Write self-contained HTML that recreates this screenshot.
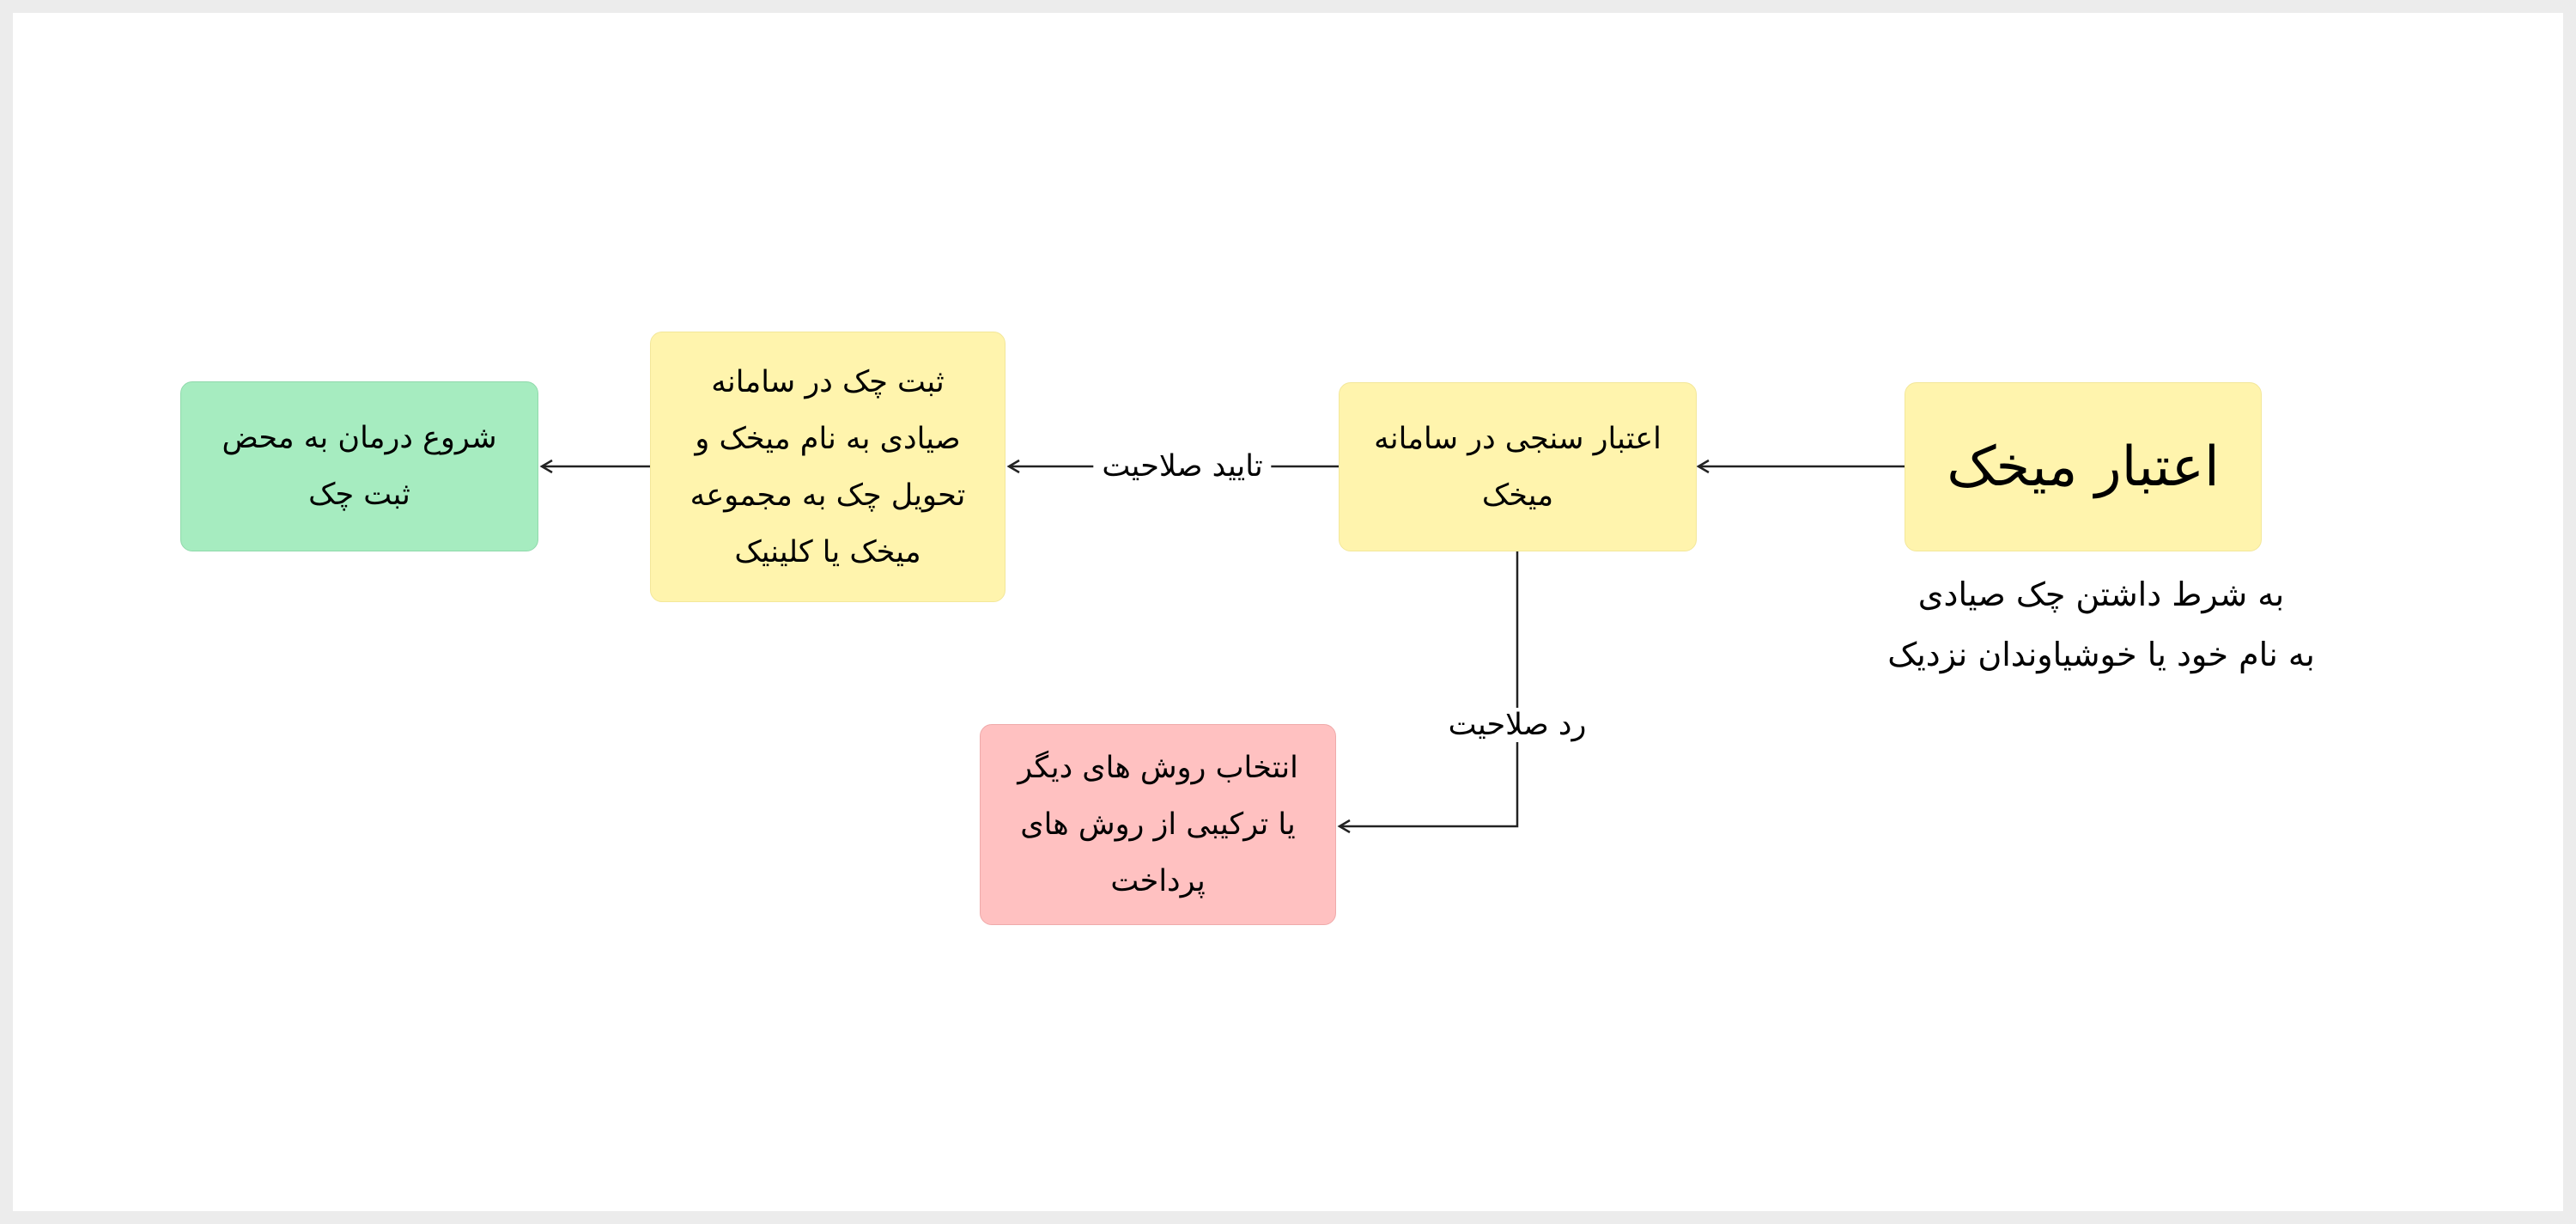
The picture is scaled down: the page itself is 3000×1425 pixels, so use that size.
<!DOCTYPE html>
<html><head><meta charset="utf-8"><style>
html,body{margin:0;padding:0}
body{width:3000px;height:1425px;background:#ececec;position:relative;overflow:hidden;font-family:"DejaVu Sans","Noto Sans CJK SC",sans-serif}
.page{position:absolute;left:15px;top:15px;width:2970px;height:1395px;background:#fff}
.box{position:absolute;border-radius:14px;display:flex;align-items:center;justify-content:center;text-align:center;direction:rtl;font-size:35px;line-height:66px;color:#000;white-space:nowrap;box-sizing:border-box}
.y{background:#fff4ad;border:1px solid #f3e79a}
.g{background:#a6ecc0;border:1px solid #90d9ab}
.r{background:#ffc1c1;border:1px solid #efaaaa}
.lbl{position:absolute;direction:rtl;font-size:35px;color:#000;background:#fff;white-space:nowrap;transform:translate(-50%,-50%);padding:0 10px}
svg{position:absolute;left:0;top:0}
</style></head><body>
<div class="page"></div>
<svg width="3000" height="1425">
<g stroke="#222" stroke-width="2.5" fill="none">
<line x1="2218" y1="543" x2="1980" y2="543"/>
<line x1="1559" y1="543" x2="1175" y2="543"/>
<line x1="757" y1="543" x2="631" y2="543"/>
<polyline points="1767,642 1767,962 1560,962"/>
<polyline points="1990,536 1978,543 1990,550"/>
<polyline points="1187,536 1175,543 1187,550"/>
<polyline points="643,536 631,543 643,550"/>
<polyline points="1572,955 1560,962 1572,969"/>
</g>
</svg>
<div class="box g" style="left:210px;top:444px;width:417px;height:198px">شروع درمان به محض<br>ثبت چک</div>
<div class="box y" style="left:757px;top:386px;width:414px;height:315px">ثبت چک در سامانه<br>صیادی به نام میخک و<br>تحویل چک به مجموعه<br>میخک یا کلینیک</div>
<div class="box y" style="left:1559px;top:445px;width:417px;height:197px">اعتبار سنجی در سامانه<br>میخک</div>
<div class="box y" style="left:2218px;top:445px;width:416px;height:197px;font-size:64px">اعتبار میخک</div>
<div class="box r" style="left:1141px;top:843px;width:415px;height:234px">انتخاب روش های دیگر<br>یا ترکیبی از روش های<br>پرداخت</div>
<div class="lbl" style="left:1377px;top:543px">تایید صلاحیت</div>
<div class="lbl" style="left:1767px;top:844px">رد صلاحیت</div>
<div class="lbl" style="left:2447px;top:727px;line-height:70px;text-align:center;background:transparent;font-size:38px">به شرط داشتن چک صیادی<br>به نام خود یا خوشیاوندان نزدیک</div>
</body></html>
